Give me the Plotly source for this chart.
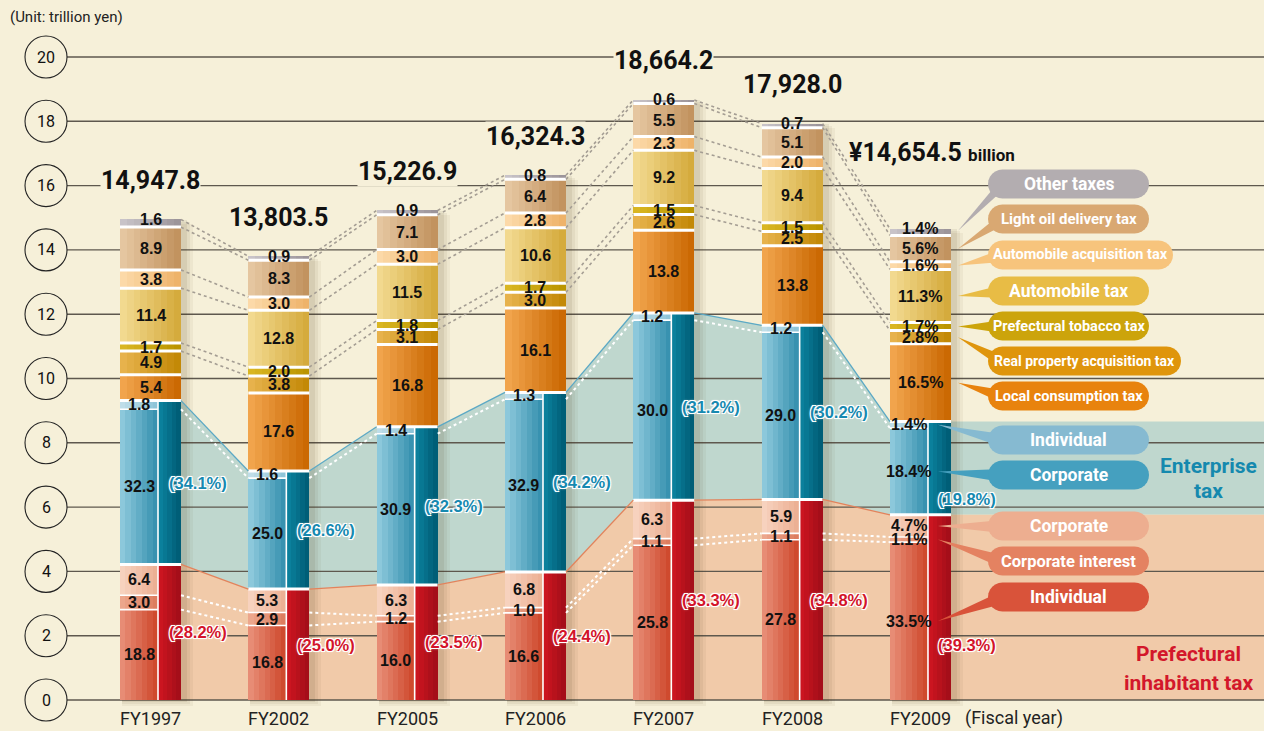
import math
import plotly.graph_objects as go

# ---------------- data (shares in % of each year's total) ----------------
years = ["FY1997", "FY2002", "FY2005", "FY2006", "FY2007", "FY2008", "FY2009"]
totals_bn = [14947.8, 13803.5, 15226.9, 16324.3, 18664.2, 17928.0, 14654.5]
total_labels = ["14,947.8", "13,803.5", "15,226.9", "16,324.3", "18,664.2", "17,928.0", "14,654.5"]

pref_individual = [18.8, 16.8, 16.0, 16.6, 25.8, 27.8, 33.5]
pref_corp_interest = [3.0, 2.9, 1.2, 1.0, 1.1, 1.1, 1.1]
pref_corporate = [6.4, 5.3, 6.3, 6.8, 6.3, 5.9, 4.7]
pref_total = [28.2, 25.0, 23.5, 24.4, 33.3, 34.8, 39.3]

ent_corporate = [32.3, 25.0, 30.9, 32.9, 30.0, 29.0, 18.4]
ent_individual = [1.8, 1.6, 1.4, 1.3, 1.2, 1.2, 1.4]
ent_total = [34.1, 26.6, 32.3, 34.2, 31.2, 30.2, 19.8]

local_consumption = [5.4, 17.6, 16.8, 16.1, 13.8, 13.8, 16.5]
real_property = [4.9, 3.8, 3.1, 3.0, 2.6, 2.5, 2.8]
tobacco = [1.7, 2.0, 1.8, 1.7, 1.5, 1.5, 1.7]
automobile = [11.4, 12.8, 11.5, 10.6, 9.2, 9.4, 11.3]
auto_acquisition = [3.8, 3.0, 3.0, 2.8, 2.3, 2.0, 1.6]
light_oil = [8.9, 8.3, 7.1, 6.4, 5.5, 5.1, 5.6]
other = [1.6, 0.9, 0.9, 0.8, 0.6, 0.7, 1.4]

y_ticks = [0, 2, 4, 6, 8, 10, 12, 14, 16, 18, 20]

# ---------------- layout geometry / style ----------------
W, H = 1264, 731
BG = "#F6F0D9"
COND = "Roboto, Liberation Sans, sans-serif"
SANS = "Liberation Sans, Arial, sans-serif"
PX_X0, PX_STEP = 150.5, 128.33
PX_Y0, PX_UNIT = 700.0, 32.15
XR = [(0 - PX_X0) / PX_STEP, (W - PX_X0) / PX_STEP]
YR = [-(H - PX_Y0) / PX_UNIT, PX_Y0 / PX_UNIT]
HW = 30.5 / PX_STEP          # half bar width
LW = 38.0 / PX_STEP          # left (detail) part width
RW = 2 * HW - LW             # right (group) part width


def x2px(x):
    return (x - XR[0]) / (XR[1] - XR[0]) * W


def y2py(y):
    return (YR[1] - y) / (YR[1] - YR[0]) * H


def px2x(px):
    return XR[0] + px / W * (XR[1] - XR[0])


def py2y(py):
    return YR[1] - py / H * (YR[1] - YR[0])


def hex2rgb(h):
    h = h.lstrip("#")
    return tuple(int(h[i:i + 2], 16) for i in (0, 2, 4))


def mix(c0, c1, t):
    a, b = hex2rgb(c0), hex2rgb(c1)
    return "rgb(%d,%d,%d)" % tuple(round(a[i] + (b[i] - a[i]) * t) for i in range(3))


xs = list(range(len(years)))
tot_tr = [t / 1000 for t in totals_bn]


def to_tr(pcts):
    return [t * p / 100 for t, p in zip(tot_tr, pcts)]


def cum(*lists):
    return [sum(v) for v in zip(*lists)]


fig = go.Figure()
shapes = []
annotations = []


def ann(**kw):
    kw.setdefault("showarrow", False)
    kw.setdefault("xanchor", "center")
    kw.setdefault("yanchor", "middle")
    annotations.append(kw)


# ---------------- segment geometry ----------------
zero = [0.0] * len(years)
pref_top = pref_total
ent_top = cum(pref_total, ent_total)

lower_left = [
    ("pref_ind", pref_individual, zero, "#E78C75", "#CF4A2E"),
    ("pref_ci", pref_corp_interest, pref_individual, "#ECA68C", "#DD7D5F"),
    ("pref_corp", pref_corporate, cum(pref_individual, pref_corp_interest), "#F7D2BE", "#ECB094"),
    ("ent_corp", ent_corporate, pref_total, "#8CC8DB", "#3892B0"),
    ("ent_ind", ent_individual, cum(pref_total, ent_corporate), "#BFDDE8", "#8FC5D8"),
]
lower_right = [
    ("pref_all", pref_total, zero, "#CB1520", "#A50E19"),
    ("ent_all", ent_total, pref_total, "#0B809C", "#005E77"),
]
upper_specs = [
    ("local", local_consumption, "#F1A44C", "#CB6903"),
    ("real_property", real_property, "#E7B24C", "#C38907"),
    ("tobacco", tobacco, "#D9B622", "#BB9500"),
    ("automobile", automobile, "#F2D98F", "#D5AB3D"),
    ("auto_acq", auto_acquisition, "#FCD9A8", "#EEB36A"),
    ("light_oil", light_oil, "#E5C6A0", "#C2935F"),
    ("other", other, "#C8C3C8", "#9C959A"),
]
upper = []
base = ent_top
for name, vals, c0, c1 in upper_specs:
    upper.append((name, vals, base, c0, c1))
    base = cum(base, vals)
upper_names = {u[0] for u in upper}

geom = {}
for name, vals, b, c0, c1 in lower_left + lower_right + upper:
    geom[name] = (to_tr(b), to_tr(vals))

# ---------------- background areas & grid ----------------
pref_y = to_tr(pref_top)
ent_y = to_tr(ent_top)


def band_path(top, bottom):
    pts = []
    for i in xs:
        pts += [(i - HW, top[i]), (i + HW, top[i])]
    pts.append((XR[1], top[-1]))
    back = [(XR[1], bottom[-1])]
    for i in reversed(xs):
        back += [(i + HW, bottom[i]), (i - HW, bottom[i])]
    pts += back
    return "M " + " L ".join(f"{x:.4f},{y:.4f}" for x, y in pts) + " Z"


shapes.append(dict(type="path", path=band_path(ent_y, pref_y), xref="x", yref="y",
                   fillcolor="#BFD7CE", line=dict(width=0), layer="below"))
shapes.append(dict(type="path", path=band_path(pref_y, [0.0] * len(xs)), xref="x", yref="y",
                   fillcolor="#F1CAA9", line=dict(width=0), layer="below"))

cx_tick = px2x(46)
for v in y_ticks:
    shapes.append(dict(type="line", xref="x", yref="y", x0=px2x(67), x1=XR[1], y0=v, y1=v,
                       line=dict(color="#5E584E", width=1.4), layer="below"))
    shapes.append(dict(type="circle", xref="x", yref="y",
                       x0=cx_tick - 21 / PX_STEP, x1=cx_tick + 21 / PX_STEP,
                       y0=v - 21 / PX_UNIT, y1=v + 21 / PX_UNIT,
                       fillcolor=BG, line=dict(color="#222", width=1.1), layer="below"))
    ann(x=cx_tick, y=v, text=str(v), font=dict(family=COND, size=16, color="#111"))

# ---------------- bar shadows ----------------
for k, a in enumerate([0.05, 0.06, 0.08]):
    grow = (10 - 3 * k) / PX_STEP
    fig.add_trace(go.Bar(
        x=xs, y=[t + 0.05 for t in tot_tr], base=[-(6 - 2 * k) / PX_UNIT] * len(xs),
        offset=-HW + 2 / PX_STEP, width=2 * HW + grow,
        marker=dict(color=f"rgba(70,50,10,{a})", line=dict(width=0)),
        hoverinfo="skip", showlegend=False))


# ---------------- gradient bars ----------------
def grad_bar(name, left, width, c0, c1, n):
    b, h = geom[name]
    for k in range(n):
        t = k / (n - 1)
        off = left + width * k / n
        fig.add_trace(go.Bar(
            x=xs, y=h, base=b, offset=off, width=left + width - off,
            marker=dict(color=mix(c0, c1, t), line=dict(width=0)),
            hoverinfo="skip", showlegend=False, name=name))


for name, vals, b, c0, c1 in upper:
    grad_bar(name, -HW, 2 * HW, c0, c1, 9)
for name, vals, b, c0, c1 in lower_left:
    grad_bar(name, -HW, LW, c0, c1, 7)
for name, vals, b, c0, c1 in lower_right:
    grad_bar(name, -HW + LW, RW, c0, c1, 5)


# ---------------- white separators inside bars ----------------
def seg_lines(levels, x_left, x_right):
    X, Y = [], []
    for i in xs:
        X += [i + x_left, i + x_right, None]
        Y += [levels[i], levels[i], None]
    return X, Y


X, Y = [], []
for lv in [ent_top, pref_top] + [u[2] for u in upper[1:]]:
    a, b2 = seg_lines(to_tr(lv), -HW, HW)
    X += a
    Y += b2
fig.add_trace(go.Scatter(x=X, y=Y, mode="lines", line=dict(color="white", width=3),
                         hoverinfo="skip", showlegend=False))
X, Y = [], []
for lv in [pref_individual, cum(pref_individual, pref_corp_interest), cum(pref_total, ent_corporate)]:
    a, b2 = seg_lines(to_tr(lv), -HW, -HW + LW)
    X += a
    Y += b2
for i in xs:
    X += [i - HW + LW, i - HW + LW, None]
    Y += [0, ent_y[i], None]
fig.add_trace(go.Scatter(x=X, y=Y, mode="lines", line=dict(color="white", width=1.6),
                         hoverinfo="skip", showlegend=False))


# ---------------- connecting lines between bars ----------------
def connect(levels_tr, color, width, dash):
    X, Y = [], []
    for i in xs[:-1]:
        X += [i + HW, i + 1 - HW, None]
        Y += [levels_tr[i], levels_tr[i + 1], None]
    fig.add_trace(go.Scatter(x=X, y=Y, mode="lines", line=dict(color=color, width=width, dash=dash),
                             hoverinfo="skip", showlegend=False))


for nm in ["other", "auto_acq", "tobacco"]:
    b, h = geom[nm]
    connect([bb + hh for bb, hh in zip(b, h)], "#A49D93", 1.6, "dot")
    connect(b, "#A49D93", 1.6, "dot")
b, h = geom["pref_ci"]
connect(b, "white", 2, "dot")
connect([bb + hh for bb, hh in zip(b, h)], "white", 2, "dot")
connect(geom["ent_ind"][0], "white", 2, "dot")
connect(pref_y, "#E2835C", 1.3, "solid")
connect(ent_y, "#5CA9C5", 1.3, "solid")

# ---------------- value labels ----------------
LBL = dict(family=SANS, size=16, color="#111", weight="bold")
for name, vals, b, c0, c1 in upper + lower_left:
    bt, ht = geom[name]
    for i in xs:
        txt = f"{vals[i]:.1f}" + ("%" if i == len(xs) - 1 else "")
        y = bt[i] + ht[i] if name == "other" else bt[i] + ht[i] / 2
        xc = i if name in upper_names else i - HW + LW / 2
        ann(x=xc, y=y, text=txt, font=LBL)

OUT = "-1px -1px 0 #fff, 1px -1px 0 #fff, -1px 1px 0 #fff, 1px 1px 0 #fff, 0 0 3px #fff"
for name, vals, col, shift9 in [("pref_all", pref_total, "#D3142A", -38), ("ent_all", ent_total, "#1689B0", -31)]:
    bt, ht = geom[name]
    for i in xs:
        ann(x=i - HW + LW + RW / 2, y=bt[i] + ht[i] / 2, xanchor="left", xshift=-3,
            yshift=shift9 if i == len(xs) - 1 else 0,
            text=f"({vals[i]:.1f}%)",
            font=dict(family=SANS, size=16.5, color=col, weight="bold", shadow=OUT))

# totals
for i in xs[:-1]:
    ann(x=i, y=tot_tr[i], yshift=39, text=total_labels[i], bgcolor=BG, borderpad=0,
        font=dict(family=COND, size=25, color="#111", weight="bold"))
ann(x=xs[-1], y=tot_tr[-1], xanchor="left", xshift=-73, yshift=76,
    text="¥" + total_labels[-1] + " <span style='font-size:17px'>billion</span>", bgcolor=BG,
    font=dict(family=COND, size=25, color="#111", weight="bold"))

# axis-like labels
for i in xs:
    ann(x=i, y=py2y(718), text=years[i], font=dict(family=COND, size=18, color="#222"))
ann(x=px2x(1014), y=py2y(718), text="(Fiscal year)", font=dict(family=COND, size=18, color="#222"))
ann(x=8 / W, y=1 - 17 / H, xref="paper", yref="paper", xanchor="left",
    text="(Unit: trillion yen)", font=dict(family=COND, size=15, color="#222"))

# group titles
for txt, cx, cy, col in [("Enterprise", 1208, 466, "#1589AE"), ("tax", 1208, 491, "#1589AE"),
                         ("Prefectural", 1188, 654, "#D3172B"), ("inhabitant tax", 1188, 683, "#D3172B")]:
    ann(x=cx / W, y=1 - cy / H, xref="paper", yref="paper", text=txt,
        font=dict(family=COND, size=21, color=col, weight="bold"))

# ---------------- callout legend ----------------
legend_items = [
    ("Other taxes", "#B3ADB0", 184, 1149, 17.5, "other", 958),
    ("Light oil delivery tax", "#D9A872", 219, 1149, 15, "light_oil", 958),
    ("Automobile acquisition tax", "#F7C47C", 255, 1173, 14.5, "auto_acq", 958),
    ("Automobile tax", "#E8BC45", 291, 1149, 17.5, "automobile", 958),
    ("Prefectural tobacco tax", "#CCA40B", 326, 1149, 14.5, "tobacco", 958),
    ("Real property acquisition tax", "#DF950C", 361, 1181, 14, "real_property", 958),
    ("Local consumption tax", "#E8830E", 396, 1149, 14.5, "local", 958),
    ("Individual", "#86BAD1", 440, 1149, 17.5, "ent_ind", 938),
    ("Corporate", "#45A0BF", 475, 1149, 17.5, "ent_corp", 938),
    ("Corporate", "#EDAE90", 526, 1149, 17.5, "pref_corp", 938),
    ("Corporate interest", "#E48261", 561, 1149, 16.5, "pref_ci", 938),
    ("Individual", "#D9533A", 597, 1149, 17.5, "pref_ind", 938),
]


def P(px, py):
    return f"{px / W:.5f},{1 - py / H:.5f}"


def pill_path(x0, x1, cy, h=29):
    r = h / 2
    pts = []
    for k in range(13):
        a = math.pi / 2 + math.pi * k / 12
        pts.append((x0 + r + r * math.cos(a), cy - r * math.sin(a)))
    for k in range(13):
        a = 3 * math.pi / 2 + math.pi * k / 12
        pts.append((x1 - r + r * math.cos(a), cy - r * math.sin(a)))
    return "M " + " L ".join(P(x, y) for x, y in pts) + " Z"


PILL_X0 = 988
for txt, col, cy, x1, fs, seg, tipx in legend_items:
    bt, ht = geom[seg]
    i = len(xs) - 1
    tipy = y2py(bt[i] + ht[i] / 2) if seg != "other" else y2py(bt[i] + ht[i]) + 2
    tri = f"M {P(tipx, tipy)} L {P(PILL_X0 + 14, cy - 6)} L {P(PILL_X0 + 14, cy + 7)} Z"
    shapes.append(dict(type="path", path=tri, xref="paper", yref="paper",
                       fillcolor=col, line=dict(width=0), layer="above"))
    shapes.append(dict(type="path", path=pill_path(PILL_X0, x1, cy), xref="paper", yref="paper",
                       fillcolor=col, line=dict(width=0), layer="above"))
    ann(x=(PILL_X0 + x1) / 2 / W, y=1 - cy / H, xref="paper", yref="paper", text=txt,
        font=dict(family=COND, size=fs, color="white", weight="bold"))

fig.update_layout(
    width=W, height=H, margin=dict(l=0, r=0, t=0, b=0),
    paper_bgcolor=BG, plot_bgcolor=BG, barmode="overlay", bargap=0,
    xaxis=dict(range=XR, visible=False, fixedrange=True),
    yaxis=dict(range=YR, visible=False, fixedrange=True),
    shapes=shapes, annotations=annotations, showlegend=False,
)
fig.write_html("out.html", config=dict(displayModeBar=False),
               post_script="document.body.style.margin='0px';document.body.style.overflow='hidden';")
